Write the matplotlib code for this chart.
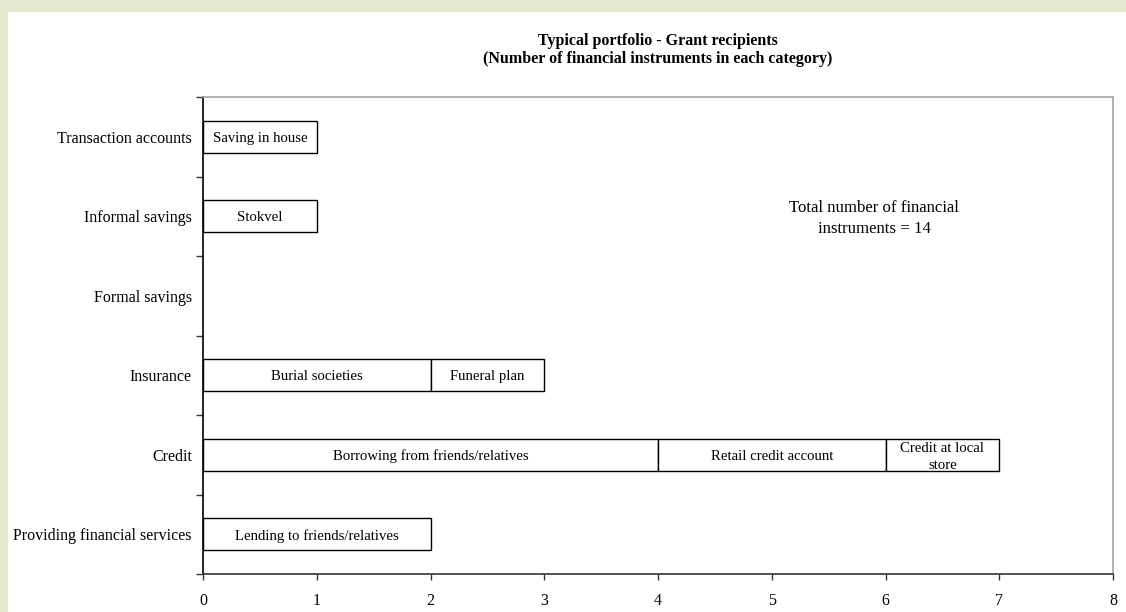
import matplotlib
matplotlib.use("Agg")
import matplotlib.pyplot as plt
from matplotlib.patches import Rectangle
import numpy as np

plt.rcParams['font.family'] = ['Liberation Serif', 'DejaVu Serif']

categories = ["Transaction accounts", "Informal savings", "Formal savings",
              "Insurance", "Credit", "Providing financial services"]

segment_category = ["Transaction accounts", "Informal savings", "Insurance", "Insurance",
                    "Credit", "Credit", "Credit", "Providing financial services"]
segment_labels = ["Saving in house", "Stokvel", "Burial societies", "Funeral plan",
                  "Borrowing from friends/relatives", "Retail credit account",
                  "Credit at local\nstore", "Lending to friends/relatives"]
segment_values = [1, 1, 2, 1, 4, 2, 1, 2]

x_ticks = [0, 1, 2, 3, 4, 5, 6, 7, 8]
title = "Typical portfolio - Grant recipients\n(Number of financial instruments in each category)"
note = "Total number of financial\ninstruments = 14"

W, H = 1126, 612
fig = plt.figure(figsize=(W / 100, H / 100), dpi=100)
fig.patch.set_facecolor('#e2e8cb')
fig.add_artist(Rectangle((8 / W, 0), 1, (H - 12) / H, transform=fig.transFigure,
                         facecolor='white', edgecolor='none', zorder=0))

ax = fig.add_axes([203 / W, 1 - 574 / H, (1113 - 203) / W, (574 - 97) / H])
ax.set_facecolor('white')

ypos = {c: i for i, c in enumerate(categories)}
offset = {c: 0.0 for c in categories}
for cat, lab, val in zip(segment_category, segment_labels, segment_values):
    y = ypos[cat]
    left = offset[cat]
    ax.barh(y, val, left=left, height=0.4, color='white', edgecolor='black',
            linewidth=1.0, zorder=2)
    multi = "\n" in lab
    ax.text(left + val / 2, y + (0.03 if multi else 0.0), lab, ha='center',
            va='center' if multi else 'center_baseline', fontsize=10.6,
            linespacing=1.35, zorder=3)
    offset[cat] = left + val

ax.set_xlim(0, 8)
ax.set_ylim(len(categories) - 0.5, -0.5)
ax.set_xticks(x_ticks)
ax.set_xticklabels([str(t) for t in x_ticks], fontsize=11.5)
ax.set_yticks(range(len(categories)))
ax.set_yticklabels(categories, fontsize=11.5)
ax.set_yticks(np.arange(-0.5, len(categories), 1.0), minor=True)
ax.tick_params(axis='y', which='major', length=0, pad=8)
ax.tick_params(axis='y', which='minor', length=5, width=1, color='#333333')
ax.tick_params(axis='x', which='major', length=4, width=1, color='#333333', pad=10)

ax.spines['top'].set_color('#a6a6a6')
ax.spines['right'].set_color('#a6a6a6')
ax.spines['left'].set_color('black')
ax.spines['bottom'].set_color('#333333')
for s in ax.spines.values():
    s.set_linewidth(1.2)

ax.text(5.9, 1.03, note, ha='center', va='center', fontsize=12.1, linespacing=1.45)

fig.text((203 + 1113) / 2 / W, 1 - 50 / H, title, ha='center', va='center',
         fontsize=11.5, fontweight='bold', linespacing=1.2)

fig.savefig("out.png", dpi=100, facecolor=fig.get_facecolor())
